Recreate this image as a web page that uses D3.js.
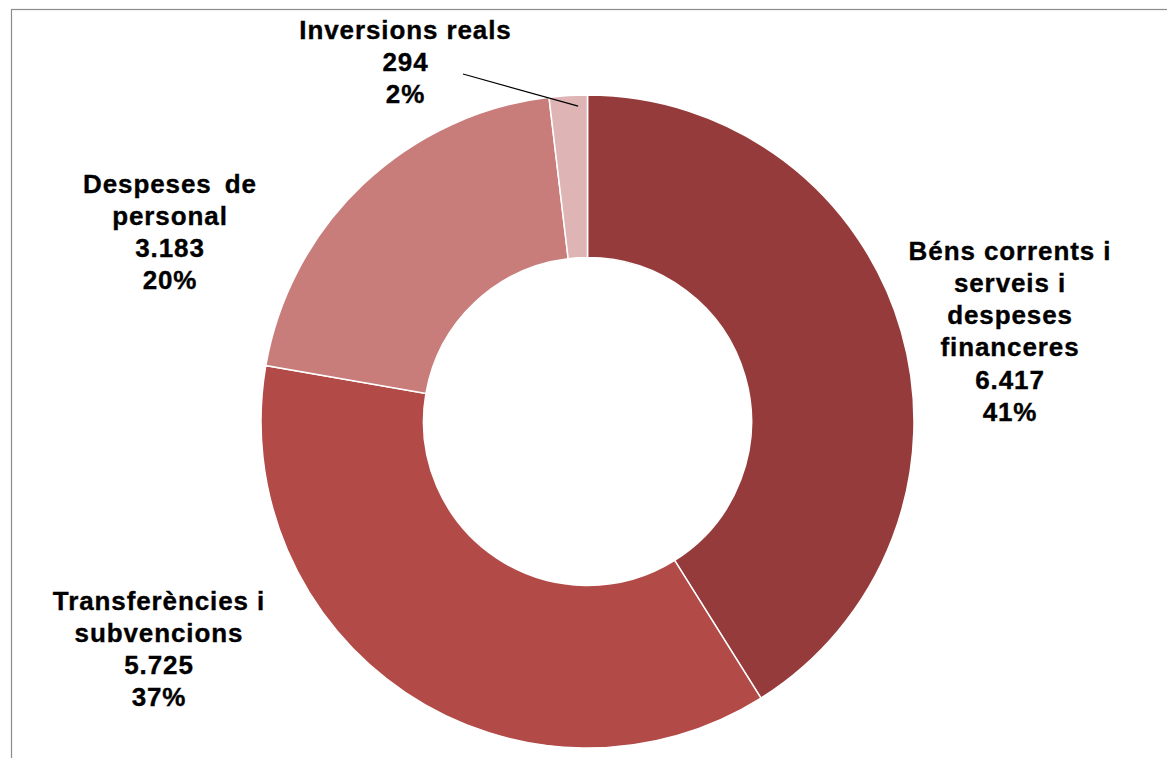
<!DOCTYPE html>
<meta charset="utf-8">
<style>
  body { margin: 0; padding: 0; background: #fff; }
  svg { display: block; background: #fff; }
  .lbl { font-family: "Liberation Sans", Arial, sans-serif; font-weight: bold; font-size: 26px; letter-spacing: 0.9px; fill: #000; stroke: #000; stroke-width: 0.35px; }
  .wide { word-spacing: 5px; }
</style>
<script src="https://d3js.org/d3.v7.min.js"></script>
<svg id="vis"></svg>
<script>

var width = 1167, height = 758;

// data
const categories = ["Béns corrents i serveis i despeses financeres", "Transferències i subvencions", "Despeses de personal", "Inversions reals"];
const values = [6417, 5725, 3183, 294];
const labelLines = [
  ["Béns corrents i", "serveis i", "despeses", "financeres"],
  ["Transferències i", "subvencions"],
  ["Despeses de", "personal"],
  ["Inversions reals"]
];
const colors = ["#963b3b", "#b24b48", "#c97d7b", "#dfb4b4"];

// label placement (center x, first baseline)
const labelPos = [
  {x: 1010, y: 259.5},
  {x: 159, y: 609.5},
  {x: 170, y: 192.5},
  {x: 405.5, y: 38.5}
];
const lineH = 32.3;

var svg = d3.select("svg").attr("width", width).attr("height", height);

// chart area frame
svg.append("rect")
  .attr("x", 11.5).attr("y", 9.5)
  .attr("width", width + 20).attr("height", height + 20)
  .attr("fill", "none").attr("stroke", "#8c8c8c").attr("stroke-width", 1.2);

var cx = 587.5, cy = 421.5, R = 326.5, r = 164;

var loc = d3.formatLocale({decimal: ",", thousands: ".", grouping: [3], currency: ["", "€"]});
var fmt = loc.format(",d");
var total = d3.sum(values);

var pie = d3.pie().sort(null).value(d => d)(values);
var arc = d3.arc().innerRadius(r).outerRadius(R);

var g = svg.append("g").attr("transform", "translate(" + cx + "," + cy + ")");

g.selectAll("path")
  .data(pie)
  .enter().append("path")
    .attr("d", arc)
    .attr("fill", (d, i) => colors[i])
    .attr("stroke", "#fff")
    .attr("stroke-width", 1.5);

// labels
pie.forEach(function(d, i) {
  var lines = labelLines[i].concat([fmt(values[i]), Math.round(values[i] / total * 100) + "%"]);
  var t = svg.append("text").attr("class", "lbl").attr("text-anchor", "middle");
  lines.forEach(function(s, k) {
    t.append("tspan")
      .attr("class", (i == 2 && k == 0) ? "wide" : null)
      .attr("x", labelPos[i].x)
      .attr("y", labelPos[i].y + k * lineH)
      .text(s);
  });
});

// leader line for the small slice
var s = pie[3];
var a = s.startAngle + 0.75 * (s.endAngle - s.startAngle);
var rr = R - 11;
svg.append("line")
  .attr("x1", 463).attr("y1", 74)
  .attr("x2", cx + rr * Math.sin(a))
  .attr("y2", cy - rr * Math.cos(a))
  .attr("stroke", "#000").attr("stroke-width", 1.2);

</script>
